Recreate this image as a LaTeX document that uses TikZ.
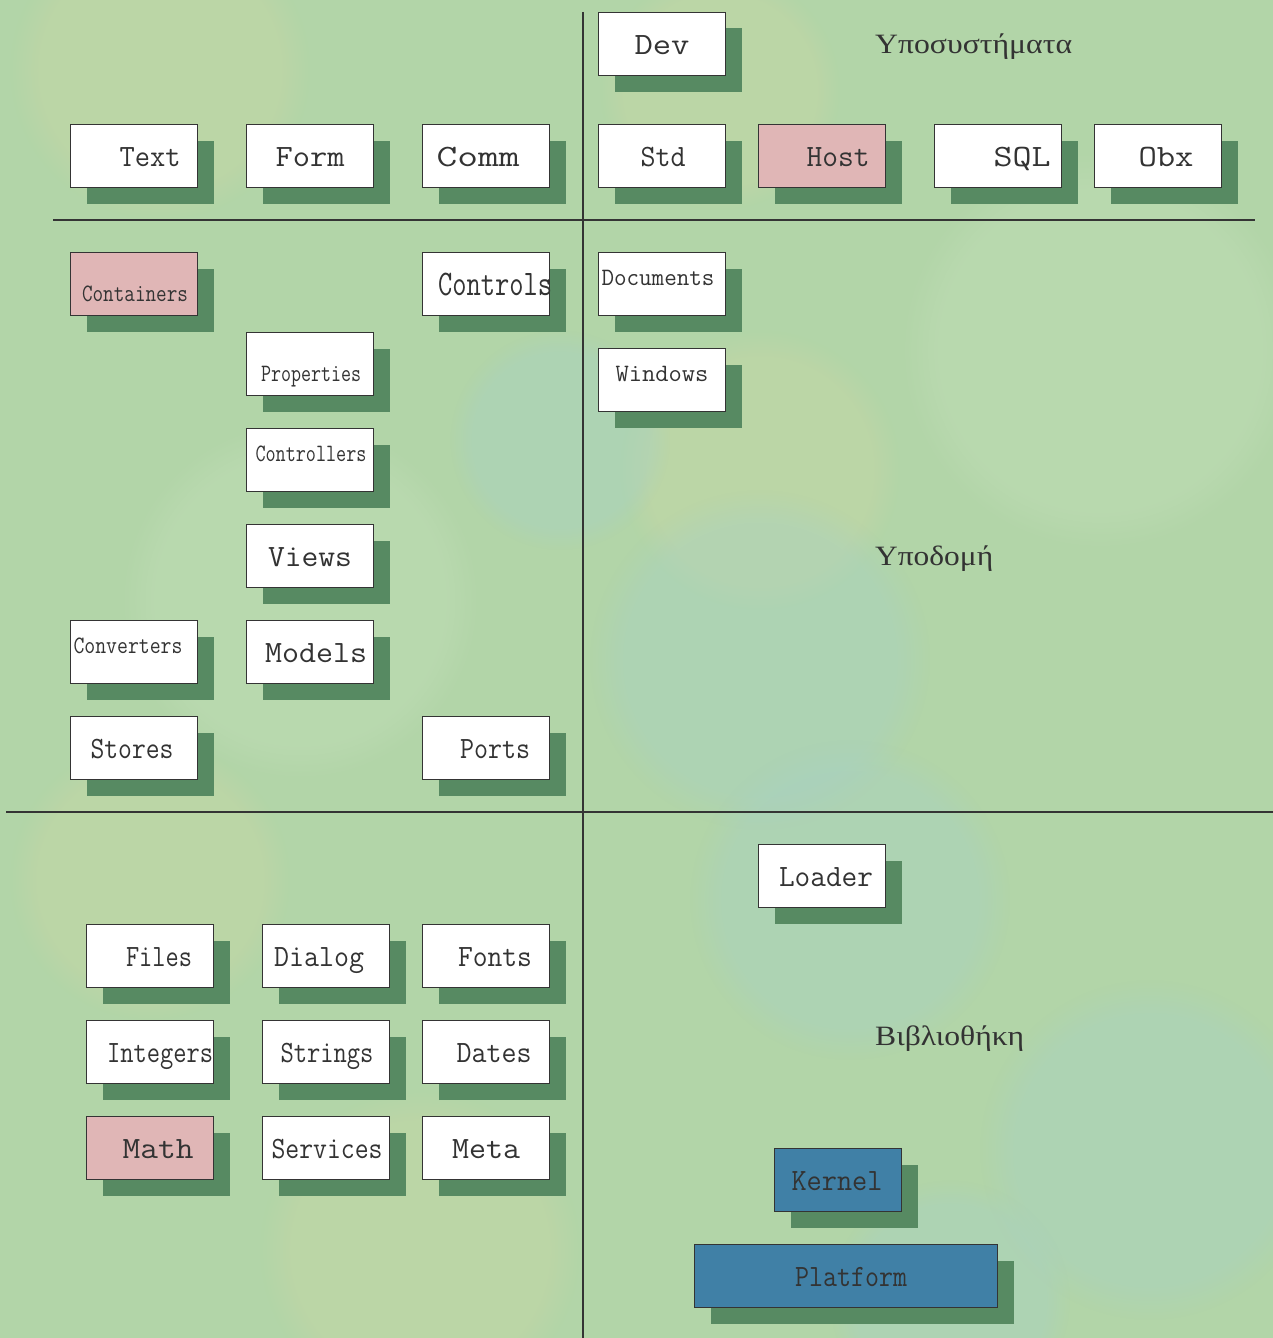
\documentclass[tikz,border=0pt]{standalone}
\usepackage{fontspec}
\usepackage{graphicx}
\newfontfamily\greekfont{Liberation Serif}
\usetikzlibrary{shadows,fadings}

\definecolor{paper}{RGB}{178,213,168}
\definecolor{paperlight}{RGB}{198,225,188}
\definecolor{paperyellow}{RGB}{206,216,164}
\definecolor{paperblue}{RGB}{166,208,200}
\definecolor{boxline}{RGB}{52,52,52}
\definecolor{shade}{RGB}{87,138,98}
\definecolor{pinkfill}{RGB}{224,182,182}
\definecolor{bluefill}{RGB}{64,128,166}
\definecolor{ink}{RGB}{51,51,51}

\newcommand\fitw[2]{\resizebox{#1pt}{\height}{#2}}

\tikzset{
  box/.style={draw=boxline, line width=1.6pt, fill=white,
    minimum width=127pt, minimum height=63pt, inner sep=0pt,
    general shadow={fill=shade, shadow xshift=16pt, shadow yshift=-16pt}},
  pinkbox/.style={box, fill=pinkfill},
  bluebox/.style={box, fill=bluefill},
  big/.style={anchor=base, inner sep=0pt, text=ink, font=\ttfamily\fontsize{31}{31}\selectfont},
  huge/.style={anchor=base, inner sep=0pt, text=ink, font=\ttfamily\fontsize{36}{36}\selectfont},
  small/.style={anchor=base, inner sep=0pt, text=ink, font=\ttfamily\fontsize{25}{25}\selectfont},
  greek/.style={anchor=base west, inner sep=0pt, text=ink, font=\greekfont\fontsize{28}{28}\selectfont},
  divider/.style={draw=boxline, line width=1.2pt},
  blob/.style={path fading=circle with fuzzy edge 20 percent, opacity=0.35},
}

\begin{document}
\begin{tikzpicture}[x=1pt, y=-1pt]
\useasboundingbox (0,0) rectangle (1273,1338);

% textured paper background
\fill[paper] (0,0) rectangle (1273,1338);
\fill[paperyellow, blob] (160,70) circle (150);
\fill[paperyellow, blob] (720,90) circle (120);
\fill[paperyellow, blob] (760,470) circle (140);
\fill[paperblue, blob] (560,440) circle (110);
\fill[paperblue, blob] (760,660) circle (170);
\fill[paperblue, blob] (850,900) circle (160);
\fill[paperlight, blob] (1100,350) circle (200);
\fill[paperyellow, blob] (150,880) circle (140);
\fill[paperyellow, blob] (420,1250) circle (160);
\fill[paperblue, blob] (1150,1150) circle (170);
\fill[paperlight, blob] (300,600) circle (180);
\fill[paperblue, blob] (950,1300) circle (120);

% section dividers
\coordinate (vtop) at (583,12);
\coordinate (vbot) at (583,1338);
\coordinate (h1l) at (53,220);
\coordinate (h1r) at (1255,220);
\coordinate (h2l) at (6,812);
\coordinate (h2r) at (1273,812);
\draw[divider] (vtop) -- (vbot);
\draw[divider] (h1l) -- (h1r);
\draw[divider] (h2l) -- (h2r);

% section titles
\node[greek] (tsub) at (875,53) {\fitw{197}{Υποσυστήματα}};
\node[greek] (tinf) at (875,565) {\fitw{118}{Υποδομή}};
\node[greek] (tlib) at (875,1045) {\fitw{149}{Βιβλιοθήκη}};

% subsystems
\node[box] (dev) at (662,44) {};
\node[big] (dev-t) at (662,54) {\fitw{55}{Dev}};
\node[box] (text) at (134,156) {};
\node[big] (text-t) at (150,166) {\fitw{61}{Text}};
\node[box] (form) at (310,156) {};
\node[big] (form-t) at (310,166) {\fitw{69}{Form}};
\node[box] (comm) at (486,156) {};
\node[big] (comm-t) at (478,166) {\fitw{83}{Comm}};
\node[box] (std) at (662,156) {};
\node[big] (std-t) at (663,166) {\fitw{45}{Std}};
\node[pinkbox] (host) at (822,156) {};
\node[big] (host-t) at (838,166) {\fitw{63}{Host}};
\node[box] (sql) at (998,156) {};
\node[big] (sql-t) at (1022,166) {\fitw{57}{SQL}};
\node[box] (obx) at (1158,156) {};
\node[big] (obx-t) at (1166,166) {\fitw{55}{Obx}};

% infrastructure
\node[pinkbox] (containers) at (134,284) {};
\node[small] (containers-t) at (135,301) {\fitw{106}{Containers}};
\node[box] (controls) at (486,284) {};
\node[huge] (controls-t) at (495,295) {\fitw{114}{Controls}};
\node[box] (documents) at (662,284) {};
\node[small] (documents-t) at (658,285) {\fitw{113}{Documents}};
\node[box] (properties) at (310,364) {};
\node[small] (properties-t) at (311,381) {\fitw{100}{Properties}};
\node[box] (windows) at (662,380) {};
\node[small] (windows-t) at (662,381) {\fitw{93}{Windows}};
\node[box] (controllers) at (310,460) {};
\node[small] (controllers-t) at (311,461) {\fitw{111}{Controllers}};
\node[box] (views) at (310,556) {};
\node[big] (views-t) at (310,566) {\fitw{84}{Views}};
\node[box] (converters) at (134,652) {};
\node[small] (converters-t) at (128,653) {\fitw{109}{Converters}};
\node[box] (models) at (310,652) {};
\node[big] (models-t) at (316,662) {\fitw{102}{Models}};
\node[box] (stores) at (134,748) {};
\node[big] (stores-t) at (132,758) {\fitw{83}{Stores}};
\node[box] (ports) at (486,748) {};
\node[big] (ports-t) at (495,758) {\fitw{70}{Ports}};

% library
\node[box] (loader) at (822,876) {};
\node[big] (loader-t) at (826,886) {\fitw{94}{Loader}};
\node[box] (files) at (150,956) {};
\node[big] (files-t) at (159,966) {\fitw{66}{Files}};
\node[box] (dialog) at (326,956) {};
\node[big] (dialog-t) at (319,966) {\fitw{90}{Dialog}};
\node[box] (fonts) at (486,956) {};
\node[big] (fonts-t) at (495,966) {\fitw{74}{Fonts}};
\node[box] (integers) at (150,1052) {};
\node[big] (integers-t) at (160,1062) {\fitw{106}{Integers}};
\node[box] (strings) at (326,1052) {};
\node[big] (strings-t) at (327,1062) {\fitw{93}{Strings}};
\node[box] (dates) at (486,1052) {};
\node[big] (dates-t) at (494,1062) {\fitw{75}{Dates}};
\node[pinkbox] (math) at (150,1148) {};
\node[big] (math-t) at (158,1158) {\fitw{71}{Math}};
\node[box] (services) at (326,1148) {};
\node[big] (services-t) at (327,1158) {\fitw{111}{Services}};
\node[box] (meta) at (486,1148) {};
\node[big] (meta-t) at (486,1158) {\fitw{68}{Meta}};

% core
\node[bluebox] (kernel) at (838,1180) {};
\node[big] (kernel-t) at (837,1190) {\fitw{91}{Kernel}};
\node[bluebox, minimum width=303pt] (platform) at (846,1276) {};
\node[big] (platform-t) at (851,1286) {\fitw{112}{Platform}};
\end{tikzpicture}
\end{document}
